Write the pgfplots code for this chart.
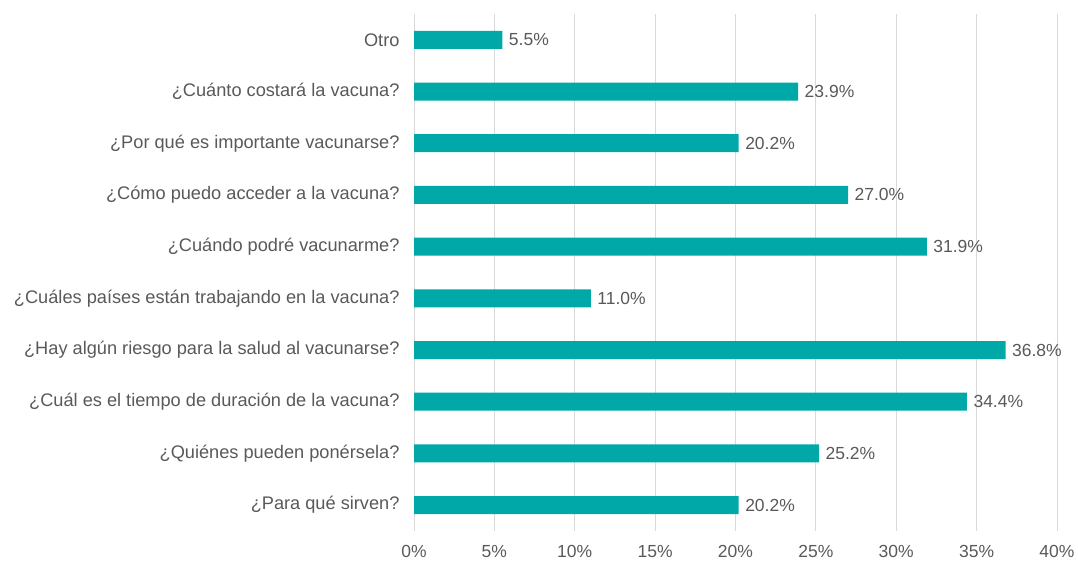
\documentclass[border=0pt]{standalone}
\usepackage{pgfplots}
\pgfplotsset{compat=1.18}
\usepackage{fontspec}
\setmainfont{Liberation Sans}
\definecolor{barc}{HTML}{00A9A8}
\definecolor{txt}{HTML}{595959}
\definecolor{gridc}{HTML}{D9D9D9}
\begin{document}
\begin{tikzpicture}
\useasboundingbox (0,0) rectangle (1078pt,561pt);
\begin{axis}[
  at={(414pt,30pt)}, anchor=south west,
  scale only axis, width=643pt, height=517pt,
  xbar, bar width=18pt,
  xmin=0, xmax=40, ymin=-0.5, ymax=9.5,
  xtick={0,5,...,40},
  xticklabel={\pgfmathprintnumber{\tick}\%},
  ytick={0,...,9},
  yticklabels={{¿Para qué sirven?},{¿Quiénes pueden ponérsela?},{¿Cuál es el tiempo de duración de la vacuna?},{¿Hay algún riesgo para la salud al vacunarse?},{¿Cuáles países están trabajando en la vacuna?},{¿Cuándo podré vacunarme?},{¿Cómo puedo acceder a la vacuna?},{¿Por qué es importante vacunarse?},{¿Cuánto costará la vacuna?},{Otro}},
  /pgf/number format/assume math mode=true,
  xmajorgrids, major grid style={gridc, line width=0.8pt},
  axis line style={draw=none},
  major tick length=0pt,
  xticklabel style={text=txt, font=\fontsize{17.5}{20}\selectfont, yshift=-11pt},
  yticklabel style={text=txt, font=\fontsize{18.2}{21}\selectfont, xshift=-11pt},
  nodes near coords={\pgfmathprintnumber[fixed,fixed zerofill,precision=1]{\pgfplotspointmeta}\%},
  nodes near coords style={text=txt, font=\fontsize{17.5}{20}\selectfont, anchor=west, xshift=3pt},
]
\addplot[fill=barc, draw=none] coordinates {
(20.2,0) (25.2,1) (34.4,2) (36.8,3) (11.0,4) (31.9,5) (27.0,6) (20.2,7) (23.9,8) (5.5,9)};
\end{axis}
\end{tikzpicture}
\end{document}
